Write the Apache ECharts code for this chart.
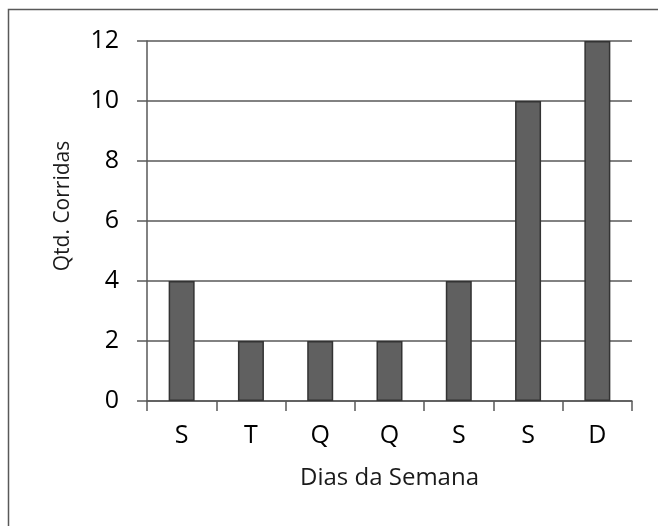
<!DOCTYPE html>
<html>
<head>
<meta charset="utf-8">
<script src="https://cdn.jsdelivr.net/npm/echarts@6/dist/echarts.min.js"></script>
<style>
html,body{margin:0;padding:0;background:#fff;}
#chart{width:658px;height:526px;}
</style>
</head>
<body>
<div id="chart"></div>
<script>
const categories = ['S', 'T', 'Q', 'Q', 'S', 'S', 'D'];
const values = [4, 2, 2, 2, 4, 10, 12];
const yTicks = [0, 2, 4, 6, 8, 10, 12];
const xTitle = 'Dias da Semana';
const yTitle = 'Qtd. Corridas';

const FONT = '"Open Sans"';
const chart = echarts.init(document.getElementById('chart'), null, {renderer: 'canvas'});
chart.setOption({
  animation: false,
  backgroundColor: '#fff',
  graphic: [
    {type: 'rect', shape: {x: 8.5, y: 9.5, width: 700, height: 600}, style: {fill: 'none', stroke: '#595959', lineWidth: 1.5}, silent: true},
    {type: 'text', x: 63, y: 206, rotation: Math.PI / 2, style: {text: yTitle, font: '21px ' + FONT, fill: '#1a1a1a', align: 'center', verticalAlign: 'middle'}, silent: true}
  ],
  grid: {left: 147, right: 26, top: 41, bottom: 125, containLabel: false},
  xAxis: {
    type: 'category',
    data: categories,
    name: xTitle,
    nameLocation: 'middle',
    nameGap: 65,
    nameTextStyle: {fontFamily: FONT, fontSize: 24, color: '#1a1a1a'},
    axisLine: {lineStyle: {color: '#595959', width: 1.5}},
    axisTick: {show: true, length: 10, alignWithLabel: false, lineStyle: {color: '#595959', width: 1.5}},
    axisLabel: {fontFamily: FONT, fontSize: 25, color: '#000', margin: 22}
  },
  yAxis: {
    type: 'value',
    min: yTicks[0],
    max: yTicks[yTicks.length - 1],
    interval: 2,
    axisLine: {show: true, lineStyle: {color: '#595959', width: 1.5}},
    axisTick: {show: true, length: 10, lineStyle: {color: '#595959', width: 1.5}},
    axisLabel: {fontFamily: FONT, fontSize: 25, color: '#000', margin: 28},
    splitLine: {show: true, lineStyle: {color: '#595959', width: 1.5}}
  },
  series: [{
    type: 'bar',
    data: values,
    barWidth: 26,
    itemStyle: {color: '#606060', borderColor: '#333', borderWidth: 1.5}
  }]
});
</script>
</body>
</html>
